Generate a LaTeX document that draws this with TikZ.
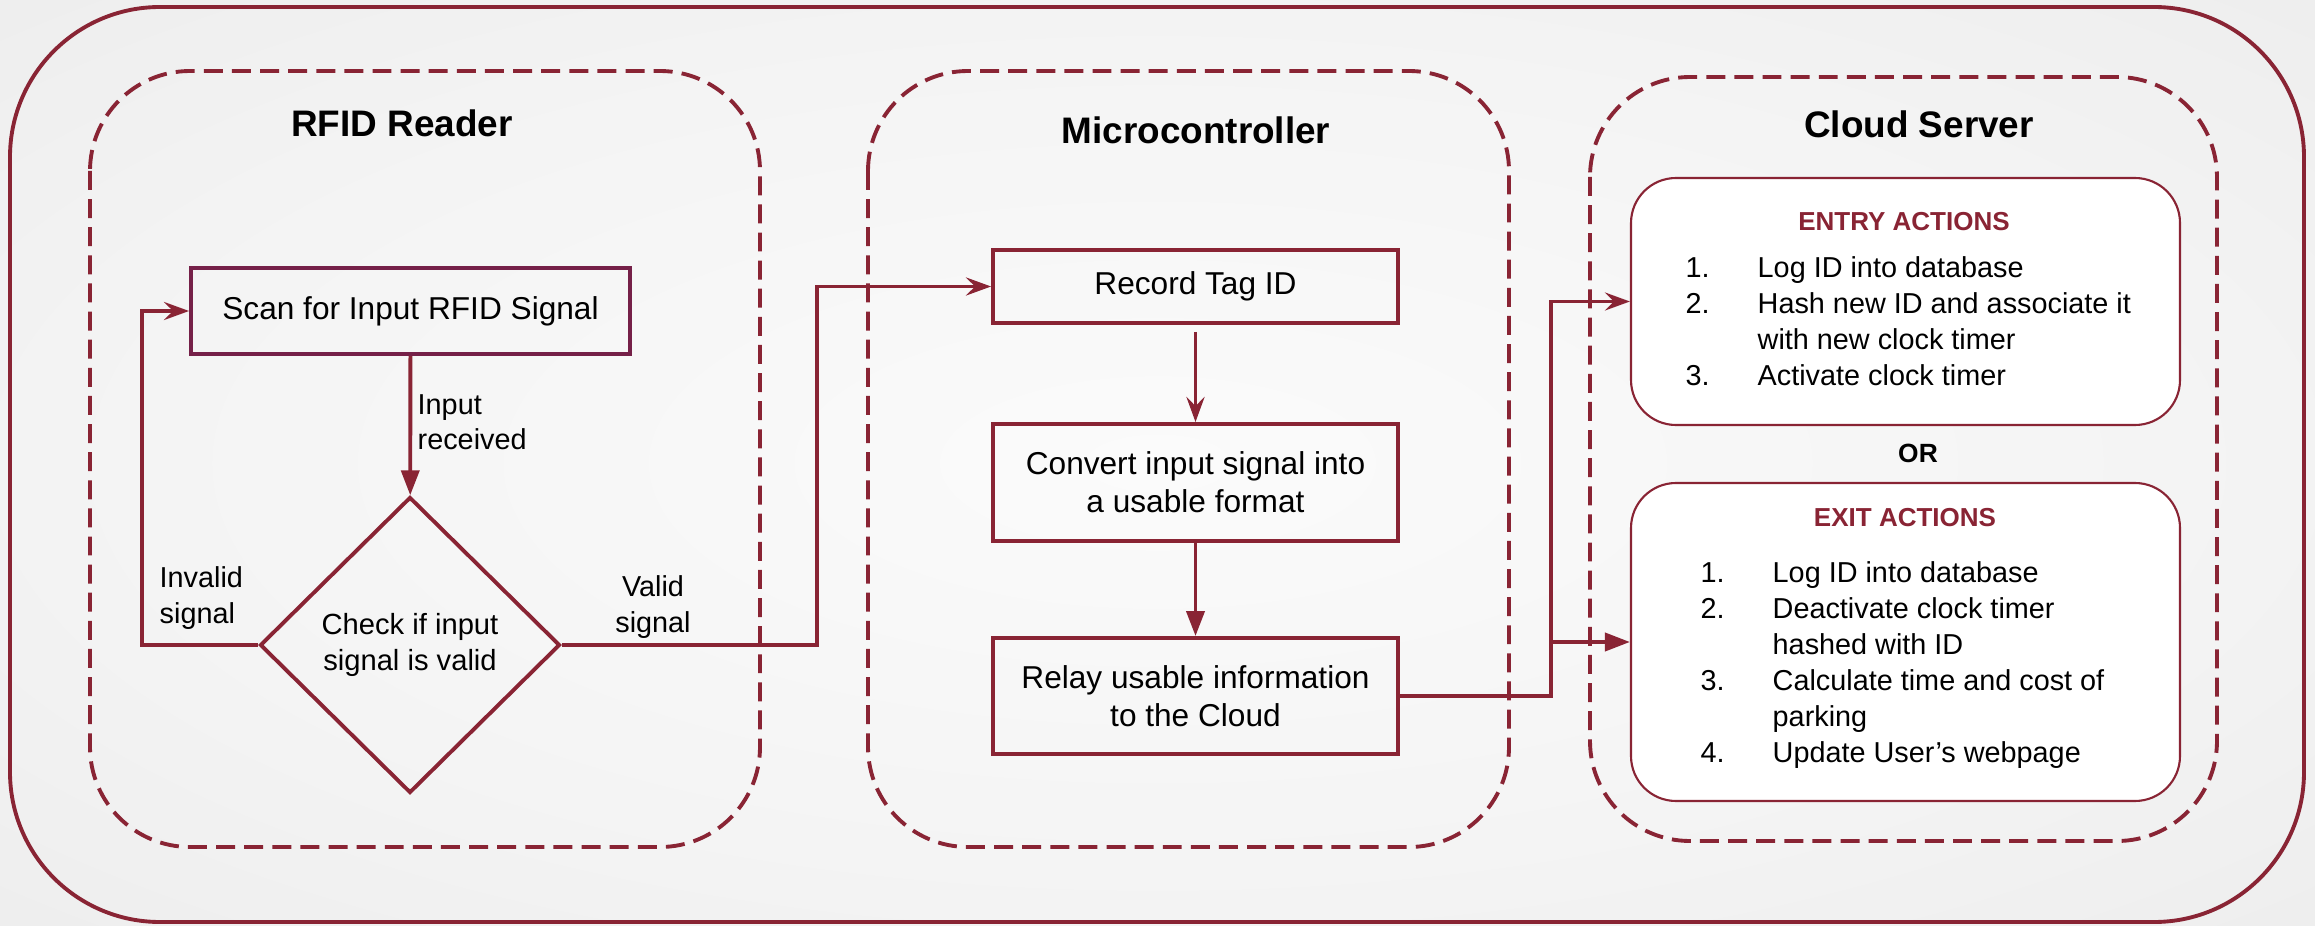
\documentclass[tikz,border=0pt]{standalone}
\usepackage{fontspec}
\setmainfont{Liberation Sans}
\usetikzlibrary{arrows.meta,shapes.geometric,calc}

\definecolor{maroon}{RGB}{137,36,52}
\definecolor{scanedge}{RGB}{117,32,72}
\definecolor{bgin}{HTML}{FBFBFB}
\definecolor{bgmid}{HTML}{F4F4F4}
\definecolor{bgout}{HTML}{E7E7E7}
\definecolor{bgcorner}{HTML}{E0E0E0}

% soft light centre fading to grey towards the edges
\pgfdeclareradialshading{backglow}{\pgfpoint{0bp}{0bp}}{%
  color(0bp)=(bgin); color(22bp)=(bgmid); color(50bp)=(bgout); color(72bp)=(bgcorner)}

\tikzset{
  region/.style={draw=maroon, line width=1.1pt, dash pattern=on 5.4pt off 2.6pt, rounded corners=10mm},
  flowbox/.style={draw=maroon, line width=1.1pt, minimum width=40.5mm, inner sep=0pt, align=center,
    font=\fontsize{9}{10.8}\selectfont},
  actbox/.style={draw=maroon, fill=white, line width=0.6pt, rounded corners=4.5mm, minimum width=54.9mm},
  title/.style={font=\fontsize{10.5}{12}\selectfont\bfseries, inner sep=0pt},
  head/.style={font=\fontsize{7.4}{8.5}\selectfont\bfseries, text=maroon, inner sep=0pt},
  lbl/.style={font=\fontsize{8.2}{10}\selectfont, inner sep=0pt},
  steps/.style={font=\fontsize{8.2}{10.25}\selectfont, inner sep=0pt, anchor=base west},
  st/.style={draw=maroon, line width=1.1pt, -{Stealth[length=2.5mm, width=1.8mm, inset=0.9mm]}},
  tri/.style={draw=maroon, line width=1.1pt, -{Triangle[length=2.5mm, width=1.8mm]}},
}

\begin{document}
\begin{tikzpicture}[x=0.1mm, y=-0.1mm]
\useasboundingbox (0,0) rectangle (2315,926);
\shade[shading=backglow] (0,0) rectangle (2315,926);

% outer frame
\draw[maroon, line width=1.1pt, rounded corners=15mm] (10,7) rectangle (2304,922);

% the three subsystems
\draw[region] (90,71) rectangle (760,847);
\draw[region] (868,71) rectangle (1509,847);
\draw[region] (1590,77) rectangle (2217,841);

\node[title] (treader) at (402,123) {RFID Reader};
\node[title] (tmcu) at (1196,130) {Microcontroller};
\node[title] (tcloud) at (1919,124) {Cloud Server};

% RFID reader
\node[flowbox, draw=scanedge, minimum width=43.9mm, minimum height=8.6mm] (scan) at (410.5,311) {Scan for Input RFID Signal};
\node[diamond, draw=maroon, line width=1.1pt, minimum width=30mm, minimum height=29.6mm, inner sep=0pt,
  align=center, font=\fontsize{8.3}{10.4}\selectfont] (chk) at (410,645) {Check if input\\signal is valid};

% microcontroller
\node[flowbox, minimum height=7.3mm] (rec) at (1195.5,286.5) {Record Tag ID};
\node[flowbox, minimum height=11.7mm] (conv) at (1195.5,482.5) {Convert input signal into\\a usable format};
\node[flowbox, minimum height=11.6mm] (relay) at (1195.5,696) {Relay usable information\\to the Cloud};

% cloud server
\node[actbox, minimum height=24.7mm] (entry) at (1905.5,301.5) {};
\node[actbox, minimum height=31.8mm] (exit) at (1905.5,642) {};

\node[head] (entryhead) at (1904,222) {ENTRY ACTIONS};
\node[steps] (entrylist) at (1685,277) {%
  \begin{tabular}[t]{@{}p{7.2mm}@{}l@{}}
  1. & Log ID into database\\
  2. & Hash new ID and associate it\\
     & with new clock timer\\
  3. & Activate clock timer
  \end{tabular}};

\node[font=\fontsize{7.5}{9}\selectfont\bfseries, inner sep=0pt] (or) at (1918,453) {OR};

\node[head] (exithead) at (1905,518) {EXIT ACTIONS};
\node[steps] (exitlist) at (1700,582) {%
  \begin{tabular}[t]{@{}p{7.2mm}@{}l@{}}
  1. & Log ID into database\\
  2. & Deactivate clock timer\\
     & hashed with ID\\
  3. & Calculate time and cost of\\
     & parking\\
  4. & Update User’s webpage
  \end{tabular}};

% connectors
\coordinate (loopL) at (142,645);
\coordinate (validT) at (817,645);
\coordinate (bus) at (1551,696);

\draw[tri] (scan) -- (chk);
\draw[st] (chk.west) -- (loopL) |- (scan.west);
\draw[st] (chk.east) -- (validT) |- (rec.west);
\draw[st, shorten <=0.7mm] (rec) -- (conv);
\draw[tri] (conv) -- (relay);
\draw[st] (relay.east) -- (bus) |- (entry.west);
\draw[tri] (bus |- exit.west) -- (exit.west);

% connector labels
\node[lbl, anchor=west, align=left] (lin) at (417,422) {Input\\received};
\node[lbl, anchor=west, align=left] (linv) at (159,598) {Invalid\\signal};
\node[lbl, align=center] (lval) at (653,607) {Valid\\signal};
\end{tikzpicture}
\end{document}
